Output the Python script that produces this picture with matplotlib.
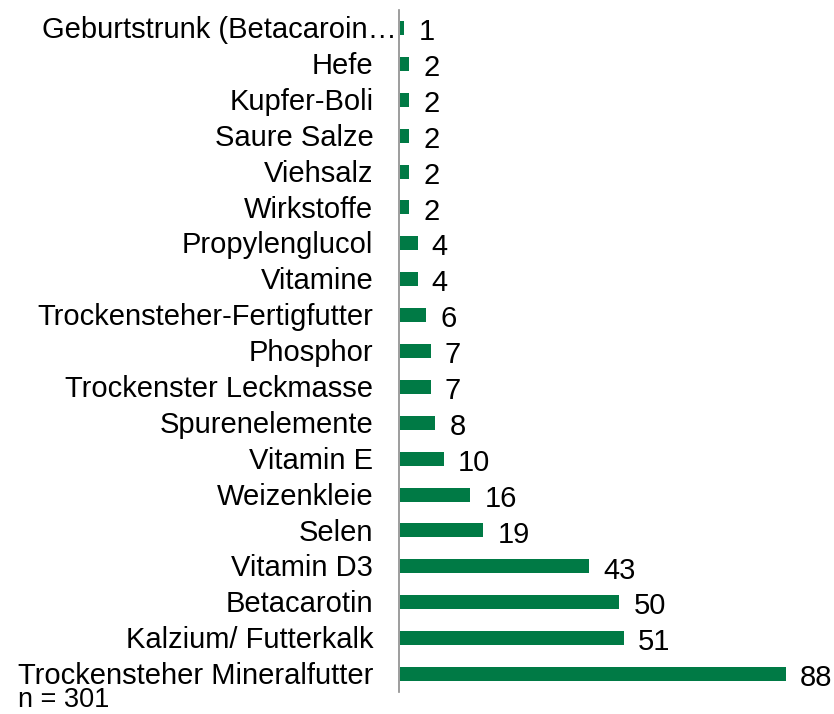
import numpy as np
import matplotlib
matplotlib.use("Agg")
from matplotlib import pyplot as plt

plt.rcParams['font.family'] = ['Liberation Sans', 'DejaVu Sans']

categories = [
    "Geburtstrunk (Betacaroin\u2026",
    "Hefe",
    "Kupfer-Boli",
    "Saure Salze",
    "Viehsalz",
    "Wirkstoffe",
    "Propylenglucol",
    "Vitamine",
    "Trockensteher-Fertigfutter",
    "Phosphor",
    "Trockenster Leckmasse",
    "Spurenelemente",
    "Vitamin E",
    "Weizenkleie",
    "Selen",
    "Vitamin D3",
    "Betacarotin",
    "Kalzium/ Futterkalk",
    "Trockensteher Mineralfutter",
]
counts = [1, 2, 2, 2, 2, 2, 4, 4, 6, 7, 7, 8, 10, 16, 19, 43, 50, 51, 88]
note = "n = 301"

barColor = '#007A45'
axisColor = '#8C8C8C'
fs = 21

fig = plt.figure(figsize=(8.34, 7.14), dpi=100)
ax = fig.add_axes([399/834, 22/714, (826-399)/834, (704-22)/714])

ypos = np.arange(len(categories))
ax.barh(ypos, counts, height=0.39, color=barColor, left=0.25)
ax.set_ylim(len(categories) - 0.5, -0.5)
ax.set_xlim(0, (826-399)/4.386)

for y, c, v in zip(ypos, categories, counts):
    # category label left of the axis line (the cut-off one sits closer)
    off = -1.5 if c.endswith('\u2026') else -18.5
    ax.annotate(c, xy=(0, y), xycoords=('axes fraction', 'data'),
                xytext=(off, -1.5), textcoords='offset points',
                ha='right', va='center', fontsize=fs, color='black')
    ax.annotate(str(v), xy=(v, y), xytext=(11, -3), textcoords='offset points',
                ha='left', va='center', fontsize=fs, color='black')

ax.set_xticks([])
ax.set_yticks([])
for s in ['top', 'right', 'bottom']:
    ax.spines[s].set_visible(False)
ax.spines['left'].set_color(axisColor)
ax.spines['left'].set_linewidth(1.2)

fig.text(18/834, 1/714, note, fontsize=19.5, ha='left', va='bottom')

fig.savefig('out.png', dpi=100)
